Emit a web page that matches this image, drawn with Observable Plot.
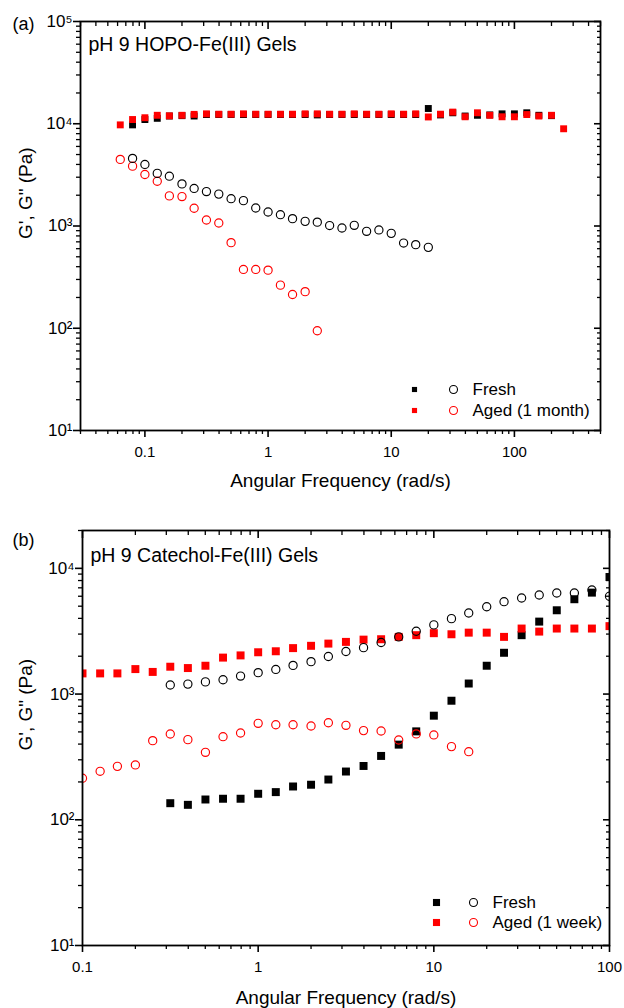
<!DOCTYPE html>
<html><head><meta charset="utf-8">
<script src="https://cdn.jsdelivr.net/npm/d3@7"></script>
<script src="https://cdn.jsdelivr.net/npm/@observablehq/plot@0.6"></script>
<style>
body{margin:0;background:#fff;}
#wrap{position:relative;width:624px;height:1008px;overflow:hidden;background:#fff;}
#wrap > svg{position:absolute;left:0;}
</style></head><body><div id="wrap"></div>
<script>
// ---------- Panel (a): pH 9 HOPO-Fe(III) gels ----------
const panelA = "(a)";
const titleA = "pH 9 HOPO-Fe(III) Gels";
const freqA = [0.0631, 0.0794, 0.1, 0.126, 0.158, 0.2, 0.251, 0.316, 0.398, 0.501, 0.631, 0.794, 1, 1.26, 1.58, 2, 2.51, 3.16, 3.98, 5.01, 6.31, 7.94, 10, 12.6, 15.8, 20, 25.1, 31.6, 39.8, 50.1, 63.1, 79.4, 100, 126, 158, 200, 251];
const freshGpA  = [null, 9750, 11000, 11300, 11900, 12000, 11900, 12300, 12300, 12300, 12300, 12300, 12300, 12300, 12300, 12300, 12200, 12300, 12300, 12300, 12300, 12300, 12300, 12300, 12300, 14100, 12200, 12800, 11900, 12100, 12200, 12500, 12500, 12800, 12100, 12000];
const agedGpA   = [9750, 11000, 11450, 12100, 11950, 12100, 12350, 12500, 12400, 12400, 12500, 12400, 12400, 12400, 12400, 12500, 12500, 12400, 12400, 12500, 12400, 12400, 12500, 12400, 12500, 11650, 12400, 13000, 11700, 12800, 12100, 11700, 11700, 12300, 11900, 12100, 8930];
const freshGppA = [null, 4580, 4000, 3270, 3070, 2580, 2330, 2170, 2050, 1850, 1770, 1500, 1370, 1290, 1180, 1110, 1090, 1010, 955, 1015, 887, 915, 847, 681, 657, 618];
const agedGppA  = [4480, 3850, 3190, 2740, 1970, 1940, 1490, 1145, 1070, 687, 376, 376, 370, 264, 214, 228, 94.5];
const legendA = ["Fresh", "Aged (1 month)"];

// ---------- Panel (b): pH 9 Catechol-Fe(III) gels ----------
const panelB = "(b)";
const titleB = "pH 9 Catechol-Fe(III) Gels";
const freqB = [0.1, 0.126, 0.158, 0.2, 0.251, 0.316, 0.398, 0.501, 0.631, 0.794, 1, 1.26, 1.58, 2, 2.51, 3.16, 3.98, 5.01, 6.31, 7.94, 10, 12.6, 15.8, 20, 25.1, 31.6, 39.8, 50.1, 63.1, 79.4, 100];
const freshGpB  = [null, null, null, null, null, 135.5, 131.5, 145, 147, 147, 161, 166, 184, 190, 209, 242, 268, 322, 396, 505, 673, 885, 1213, 1680, 2130, 2940, 3770, 4640, 5680, 6410, 8530];
const agedGpB   = [1460, 1460, 1460, 1580, 1500, 1650, 1610, 1680, 1950, 2030, 2150, 2190, 2320, 2420, 2520, 2600, 2710, 2730, 2850, 2940, 3050, 2990, 3080, 3080, 2850, 3320, 3140, 3320, 3320, 3320, 3470];
const freshGppB = [null, null, null, null, null, 1180, 1200, 1250, 1300, 1390, 1480, 1570, 1690, 1810, 1990, 2180, 2340, 2570, 2850, 3160, 3550, 3980, 4410, 4950, 5430, 5810, 6140, 6370, 6370, 6730, 6000];
const agedGppB  = [214, 243, 266, 273, 426, 481, 434, 344, 458, 490, 585, 570, 570, 557, 591, 564, 512, 508, 431, 482, 473, 382, 348];
const legendB = ["Fresh", "Aged (1 week)"];

// ---------- shared labels / ticks ----------
const xLabel = "Angular Frequency (rad/s)";
const yLabel = "G', G\" (Pa)";
const xMajorA = [0.1, 1, 10, 100];
const yMajorA = [10, 100, 1000, 10000, 100000];
const xMajorB = [0.1, 1, 10, 100];
const yMajorB = [10, 100, 1000, 10000];

const FONT = '"Liberation Sans", Arial, Helvetica, sans-serif';
const RED = "#ff0000";
const BLACK = "#000000";
const sup = {1: "\u00b9", 2: "\u00b2", 3: "\u00b3", 4: "\u2074", 5: "\u2075"};
const supFmt = d => "10" + sup[Math.round(Math.log10(d))];
const blank = () => "";

function minors(lo, hi) {
  const out = [];
  for (let e = Math.floor(Math.log10(lo)); e <= Math.ceil(Math.log10(hi)); e++)
    for (let m = 2; m <= 9; m++) {
      const v = m * Math.pow(10, e);
      if (v >= lo * 0.999 && v <= hi * 1.001) out.push(v);
    }
  return out;
}

function table(freq, vals) {
  return freq.map((f, i) => ({f, v: vals[i]})).filter(d => d.v != null);
}

function axes(xDom, yDom, xMaj, yMaj, xPad) {
  const xMin = minors(xDom[0], xDom[1]), yMin = minors(yDom[0], yDom[1]);
  const T = {stroke: BLACK, label: null};
  return [
    Plot.axisX({...T, anchor: "bottom", ticks: xMaj, tickSize: 7, tickPadding: xPad, tickFormat: d => String(d), fontSize: 15, fill: BLACK, strokeWidth: 1.6}),
    Plot.axisX({...T, anchor: "bottom", ticks: xMin, tickSize: 4, tickFormat: blank, strokeWidth: 1.3}),
    Plot.axisX({...T, anchor: "top", ticks: xMaj, tickSize: 7, dy: 7, tickFormat: blank, strokeWidth: 1.6}),
    Plot.axisX({...T, anchor: "top", ticks: xMin, tickSize: 4, dy: 4, tickFormat: blank, strokeWidth: 1.3}),
    Plot.axisY({...T, anchor: "left", ticks: yMaj, tickSize: 7, tickPadding: 1, tickFormat: supFmt, fontSize: 17, fill: BLACK, strokeWidth: 1.6}),
    Plot.axisY({...T, anchor: "left", ticks: yMin, tickSize: 4, tickFormat: blank, strokeWidth: 1.3}),
    Plot.axisY({...T, anchor: "right", ticks: yMaj, tickSize: 7, dx: -7, tickFormat: blank, strokeWidth: 1.6}),
    Plot.axisY({...T, anchor: "right", ticks: yMin, tickSize: 4, dx: -4, tickFormat: blank, strokeWidth: 1.3})
  ];
}

function legend(labels, sqR, pos) {
  const cols = [BLACK, RED];
  const marks = [];
  labels.forEach((lab, i) => {
    const dy = pos.dy[i];
    marks.push(Plot.dot([lab], {frameAnchor: "bottom-right", dx: pos.sq, dy, symbol: "square", r: sqR, fill: cols[i], stroke: "none"}));
    marks.push(Plot.dot([lab], {frameAnchor: "bottom-right", dx: pos.ci, dy, r: 4, fill: "none", stroke: cols[i], strokeWidth: 1.1}));
    marks.push(Plot.text([lab], {frameAnchor: "bottom-right", dx: pos.tx, dy, textAnchor: "start", lineAnchor: "middle", fontSize: 17, fill: BLACK}));
  });
  return marks;
}

function panel(cfg) {
  const sqR = cfg.sqR;
  const circ = (data, color) => Plot.dot(data, {x: "f", y: "v", r: 4.1, fill: "none", stroke: color, strokeWidth: 1.15, clip: true});
  const squ = (data, color) => Plot.dot(data, {x: "f", y: "v", symbol: "square", r: sqR, fill: color, stroke: "none", clip: true});
  return Plot.plot({
    width: 624, height: 504,
    marginTop: cfg.m[0], marginRight: cfg.m[1], marginBottom: cfg.m[2], marginLeft: cfg.m[3],
    x: {type: "log", domain: cfg.xDom},
    y: {type: "log", domain: cfg.yDom},
    style: {fontFamily: FONT, fontSize: "15px", color: "black", background: "white", overflow: "visible"},
    marks: [
      ...cfg.order.map(([data, color, kind]) => kind === "sq" ? squ(data, color) : circ(data, color)),
      Plot.frame({stroke: BLACK, strokeWidth: 1.8}),
      ...axes(cfg.xDom, cfg.yDom, cfg.xMaj, cfg.yMaj, cfg.xPad),
      Plot.text([cfg.title], {frameAnchor: "top-left", dx: 8, dy: cfg.titleDy, textAnchor: "start", lineAnchor: "bottom", fontSize: 19.5, fill: BLACK}),
      Plot.text([cfg.tag], {frameAnchor: "top-left", dx: cfg.tagDx, dy: cfg.tagDy, textAnchor: "start", lineAnchor: "bottom", fontSize: 18, fill: BLACK}),
      Plot.text([xLabel], {frameAnchor: "bottom", dy: cfg.xlDy, lineAnchor: "bottom", fontSize: 19, fill: BLACK}),
      Plot.text([yLabel], {frameAnchor: "left", dx: cfg.ylDx, dy: cfg.ylDy, rotate: -90, lineAnchor: "middle", fontSize: 19, fill: BLACK}),
      ...legend(cfg.legend, cfg.legR, cfg.legPos)
    ]
  });
}

const svgA = panel({
  m: [21, 24, 74, 80], xDom: [0.03, 500], yDom: [10, 100000], xMaj: xMajorA, yMaj: yMajorA, xPad: 9,
  sqR: 3.9, legR: 2.9,
  order: [
    [table(freqA, agedGppA), RED, "ci"],
    [table(freqA, freshGppA), BLACK, "ci"],
    [table(freqA, freshGpA), BLACK, "sq"],
    [table(freqA, agedGpA), RED, "sq"]
  ],
  title: titleA, titleDy: 29, tag: panelA, tagDx: -68, tagDy: 8,
  xlDy: 56, ylDx: -55, ylDy: 13,
  legend: legendA, legPos: {sq: -186, ci: -147, tx: -128, dy: [-41, -20]}
});
svgA.style.top = "0px";

const svgB = panel({
  m: [26, 15, 63, 82], xDom: [0.1, 100], yDom: [10, 20000], xMaj: xMajorB, yMaj: yMajorB, xPad: 9,
  sqR: 4.5, legR: 4,
  order: [
    [table(freqB, freshGpB), BLACK, "sq"],
    [table(freqB, agedGpB), RED, "sq"],
    [table(freqB, freshGppB), BLACK, "ci"],
    [table(freqB, agedGppB), RED, "ci"]
  ],
  title: titleB, titleDy: 31, tag: panelB, tagDx: -70, tagDy: 15,
  xlDy: 58, ylDx: -57, ylDy: 12.5,
  legend: legendB, legPos: {sq: -173, ci: -136, tx: -117, dy: [-43, -23]}
});
svgB.style.top = "504px";

const wrap = document.getElementById("wrap");
wrap.appendChild(svgA);
wrap.appendChild(svgB);
</script></body></html>
